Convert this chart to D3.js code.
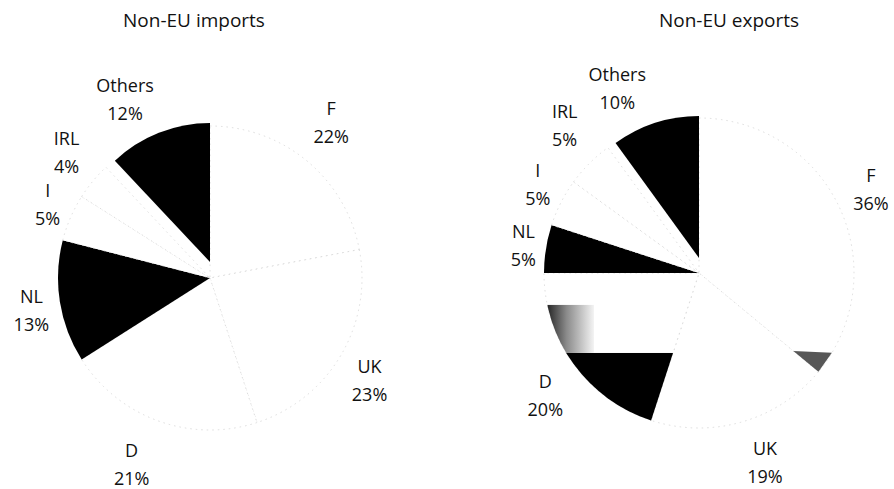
<!DOCTYPE html>
<html>
<head>
<meta charset="utf-8">
<script src="https://cdn.jsdelivr.net/npm/d3@7"></script>
<style>
  html, body { margin: 0; padding: 0; background: #fff; }
  text { font-family: "Open Sans", "DejaVu Sans", sans-serif; fill: #111; }
</style>
</head>
<body>
<script>
// Shares of non-EU trade by member state, in percent
const categories = ["F", "UK", "D", "NL", "I", "IRL", "Others"];
const importShares = [22, 23, 21, 13, 5, 4, 12];
const exportShares = [36, 19, 20, 5, 5, 5, 10];
const chartTitles = ["Non-EU imports", "Non-EU exports"];

const W = 894, H = 489;
const svg = d3.select("body").append("svg").attr("width", W).attr("height", H);

// Layout of each pie
const layouts = [
  { cx: 210, cy: 278, r: 152, titleX: 194, liftOthers: 16, othersR: 139,
    dark: ["NL", "Others"],
    nudge: { F: [0, -7], UK: [-4, 8], D: [-14, 10], NL: [9, 5], I: [12, 4], IRL: [3, -2], Others: [-15, 1] } },
  { cx: 699, cy: 273, r: 155, titleX: 729, liftOthers: 15, othersR: 142,
    dark: ["NL", "Others"], halfD: true,
    nudge: { F: [0, 0], UK: [13, 10], D: [0, 13], NL: [12, 5], I: [8, 0], IRL: [0, -11], Others: [-23, -1] } }
];

const seriesList = [importShares, exportShares];
const labelRadius = 190;

const defs = svg.append("defs");
const grad = defs.append("linearGradient").attr("id", "dshade")
  .attr("x1", "0%").attr("x2", "100%").attr("y1", "0%").attr("y2", "0%");
grad.append("stop").attr("offset", "0%").attr("stop-color", "#151515");
grad.append("stop").attr("offset", "45%").attr("stop-color", "#8a8a8a");
grad.append("stop").attr("offset", "100%").attr("stop-color", "#f4f4f4");

const pie = d3.pie().sort(null).value(d => d.value);

seriesList.forEach((values, k) => {
  const L = layouts[k];
  const data = categories.map((c, i) => ({ name: c, value: values[i] }));
  const arcs = pie(data);

  // title
  svg.append("text")
    .attr("x", L.titleX).attr("y", 27)
    .attr("text-anchor", "middle")
    .style("font-size", "19px")
    .text(chartTitles[k]);

  const g = svg.append("g").attr("transform", `translate(${L.cx},${L.cy})`);

  arcs.forEach(a => {
    const isOthers = a.data.name === "Others";
    const rad = isOthers ? L.othersR : L.r;
    const arcGen = d3.arc().innerRadius(0).outerRadius(rad);
    const dark = L.dark.includes(a.data.name);
    const p = g.append("path")
      .attr("d", arcGen(a))
      .attr("transform", isOthers ? `translate(0,${-L.liftOthers})` : null)
      .attr("fill", dark ? "#000" : "#fff");
    if (!dark) {
      p.attr("stroke", "#d4d4d4").attr("stroke-width", 0.8).attr("stroke-dasharray", "1.5,4");
    }

    // lower part of the export "D" wedge is shaded
    if (L.halfD && a.data.name === "D") {
      const id = "clipD" + k;
      defs.append("clipPath").attr("id", id).append("path").attr("d", arcGen(a));
      const sg = g.append("g").attr("clip-path", `url(#${id})`);
      sg.append("rect").attr("x", -L.r).attr("y", L.r * 0.516)
        .attr("width", L.r).attr("height", L.r);
      sg.append("rect").attr("x", -L.r).attr("y", L.r * 0.206)
        .attr("width", 50).attr("height", L.r * 0.31)
        .attr("fill", "url(#dshade)");
    }
  });

  // small halftone fleck at the F/UK boundary of the export pie
  if (L.halfD) {
    const b = arcs[0].endAngle;
    const pol = (ang, rr) => [rr * Math.sin(ang), -rr * Math.cos(ang)];
    const pts = [pol(b, L.r * 0.79), pol(b - 0.15, L.r), pol(b, L.r)];
    g.append("path")
      .attr("d", d3.line()(pts) + "Z")
      .attr("fill", "#3a3a3a").attr("opacity", 0.85);
  }

  // labels: name above, share below
  arcs.forEach(a => {
    const mid = (a.startAngle + a.endAngle) / 2;
    const n = L.nudge[a.data.name] || [0, 0];
    const x = labelRadius * Math.sin(mid) + n[0];
    const y = -labelRadius * Math.cos(mid) + n[1];
    const t = g.append("text").attr("text-anchor", "middle").style("font-size", "18px");
    t.append("tspan").attr("x", x).attr("y", y - 10).text(a.data.name);
    t.append("tspan").attr("x", x).attr("y", y + 18).text(a.data.value + "%");
  });
});
</script>
</body>
</html>
